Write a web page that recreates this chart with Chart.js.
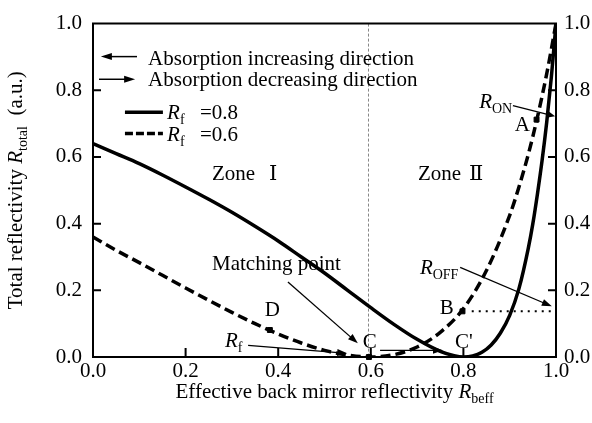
<!DOCTYPE html>
<html>
<head>
<meta charset="utf-8">
<script src="https://cdn.jsdelivr.net/npm/chart.js@4"></script>
<style>
  html, body { margin: 0; padding: 0; background: #fff; }
</style>
</head>
<body>
<canvas id="chart" width="592" height="423"></canvas>
<script>
const FONT = '"Liberation Serif", "DejaVu Serif", serif';

// R_f = 0.8 (solid)
const xRf08 = [0, 0.05, 0.1, 0.15, 0.2, 0.25, 0.3, 0.35, 0.4, 0.45, 0.5, 0.55, 0.6, 0.65, 0.7, 0.75, 0.78, 0.8,
               0.82, 0.84, 0.86, 0.88, 0.9, 0.92, 0.94, 0.95, 0.96, 0.97, 0.98, 0.99, 1.0];
const yRf08 = [0.64, 0.61, 0.58, 0.546, 0.51, 0.473, 0.434, 0.392, 0.348, 0.30, 0.252, 0.2, 0.148, 0.098, 0.053, 0.017, 0.004, 0,
               0.003, 0.014, 0.036, 0.072, 0.125, 0.205, 0.325, 0.40, 0.49, 0.59, 0.705, 0.84, 1.0];

// R_f = 0.6 (dashed)
const xRf06 = [0, 0.05, 0.1, 0.15, 0.2, 0.25, 0.3, 0.35, 0.4, 0.45, 0.5, 0.55, 0.6,
               0.65, 0.7, 0.75, 0.8, 0.85, 0.9, 0.92, 0.94, 0.96, 0.98, 1.0];
const yRf06 = [0.36, 0.32, 0.283, 0.245, 0.207, 0.17, 0.134, 0.1, 0.069, 0.042, 0.02, 0.006, 0,
               0.007, 0.03, 0.074, 0.145, 0.26, 0.425, 0.51, 0.607, 0.72, 0.85, 1.0];

// labelled points
const pointNames = ['A', 'B', 'C', 'D'];
const pointX = [0.958, 0.798, 0.596, 0.382];
const pointY = [0.712, 0.137, 0, 0.081];

const tickValues = [0, 0.2, 0.4, 0.6, 0.8, 1.0];
const matchX = 0.595;

const toXY = (xs, ys) => xs.map((x, i) => ({ x: x, y: ys[i] }));

// draw text made of pieces: [text, 'n' | 'i' | 's']
function rich(ctx, x, y, parts, align) {
  const fonts = { n: '21px ' + FONT, i: 'italic 21px ' + FONT, s: '14px ' + FONT };
  let w = 0;
  parts.forEach(p => { ctx.font = fonts[p[1]]; w += ctx.measureText(p[0]).width; });
  let cx = align === 'center' ? x - w / 2 : x;
  ctx.textAlign = 'left';
  ctx.textBaseline = 'alphabetic';
  parts.forEach(p => {
    ctx.font = fonts[p[1]];
    ctx.fillText(p[0], cx, y + (p[1] === 's' ? 5 : 0));
    cx += ctx.measureText(p[0]).width;
  });
}

function arrow(ctx, x1, y1, x2, y2, head) {
  const a = Math.atan2(y2 - y1, x2 - x1);
  const len = head || 10;
  ctx.beginPath();
  ctx.moveTo(x1, y1);
  ctx.lineTo(x2 - Math.cos(a) * len * 0.6, y2 - Math.sin(a) * len * 0.6);
  ctx.stroke();
  ctx.beginPath();
  ctx.moveTo(x2, y2);
  ctx.lineTo(x2 - len * Math.cos(a) + 3.5 * Math.sin(a), y2 - len * Math.sin(a) - 3.5 * Math.cos(a));
  ctx.lineTo(x2 - len * Math.cos(a) - 3.5 * Math.sin(a), y2 - len * Math.sin(a) + 3.5 * Math.cos(a));
  ctx.closePath();
  ctx.fill();
}

const extras = {
  id: 'extras',
  beforeDatasetsDraw(chart) {
    const { ctx, chartArea: a, scales: { x } } = chart;
    ctx.save();
    ctx.strokeStyle = '#888';
    ctx.lineWidth = 1;
    ctx.setLineDash([3, 2]);
    ctx.beginPath();
    ctx.moveTo(Math.round(x.getPixelForValue(matchX)) + 0.5, a.top);
    ctx.lineTo(Math.round(x.getPixelForValue(matchX)) + 0.5, a.bottom);
    ctx.stroke();
    ctx.restore();
  },
  afterDraw(chart) {
    const { ctx, chartArea: a, scales: { x, y } } = chart;
    const px = v => x.getPixelForValue(v);
    const py = v => y.getPixelForValue(v);
    ctx.save();
    ctx.fillStyle = '#000';
    ctx.strokeStyle = '#000';

    // top frame and inward ticks
    ctx.lineWidth = 2;
    ctx.beginPath();
    ctx.moveTo(a.left - 1, a.top);
    ctx.lineTo(a.right + 1, a.top);
    tickValues.slice(1, -1).forEach(v => {
      ctx.moveTo(px(v), a.bottom);
      ctx.lineTo(px(v), a.bottom - 9);
      ctx.moveTo(a.left, py(v));
      ctx.lineTo(a.left + 8, py(v));
      ctx.moveTo(a.right, py(v));
      ctx.lineTo(a.right - 8, py(v));
    });
    ctx.stroke();

    // dotted level from B
    ctx.lineWidth = 2;
    ctx.setLineDash([2, 5]);
    ctx.beginPath();
    ctx.moveTo(px(0.818), py(pointY[1]));
    ctx.lineTo(a.right, py(pointY[1]));
    ctx.stroke();
    ctx.setLineDash([]);

    // direction legend
    ctx.lineWidth = 1.5;
    arrow(ctx, px(0.095), py(0.901), px(0.017), py(0.901), 11);
    arrow(ctx, px(0.013), py(0.833), px(0.091), py(0.833), 11);
    rich(ctx, px(0.119), py(0.877), [['Absorption increasing direction', 'n']]);
    rich(ctx, px(0.119), py(0.813), [['Absorption decreasing direction', 'n']]);

    // curve legend
    ctx.lineWidth = 3.5;
    ctx.beginPath();
    ctx.moveTo(px(0.069), py(0.734));
    ctx.lineTo(px(0.151), py(0.734));
    ctx.stroke();
    ctx.setLineDash([8, 3]);
    ctx.beginPath();
    ctx.moveTo(px(0.069), py(0.670));
    ctx.lineTo(px(0.151), py(0.670));
    ctx.stroke();
    ctx.setLineDash([]);
    rich(ctx, px(0.160), py(0.713), [['R', 'i'], ['f', 's']]);
    rich(ctx, px(0.231), py(0.713), [['=0.8', 'n']]);
    rich(ctx, px(0.160), py(0.649), [['R', 'i'], ['f', 's']]);
    rich(ctx, px(0.231), py(0.649), [['=0.6', 'n']]);

    // zones
    rich(ctx, px(0.257), py(0.532), [['Zone', 'n']]);
    rich(ctx, px(0.380), py(0.532), [['\u2160', 'n']]);
    rich(ctx, px(0.702), py(0.532), [['Zone', 'n']]);
    rich(ctx, px(0.812), py(0.532), [['\u2161', 'n']]);

    // labels of points
    rich(ctx, px(0.257), py(0.260), [['Matching point', 'n']]);
    rich(ctx, px(0.598), py(0.026), [['C', 'n']], 'center');
    rich(ctx, px(0.782), py(0.026), [["C'", 'n']]);
    rich(ctx, px(0.371), py(0.123), [['D', 'n']]);
    rich(ctx, px(0.749), py(0.129), [['B', 'n']]);
    rich(ctx, px(0.911), py(0.678), [['A', 'n']]);
    rich(ctx, px(0.834), py(0.746), [['R', 'i'], ['ON', 's']]);
    rich(ctx, px(0.706), py(0.249), [['R', 'i'], ['OFF', 's']]);
    rich(ctx, px(0.285), py(0.029), [['R', 'i'], ['f', 's']]);

    // pointer arrows
    ctx.lineWidth = 1.3;
    arrow(ctx, px(0.421), py(0.225), px(0.572), py(0.041));
    arrow(ctx, px(0.907), py(0.754), px(0.998), py(0.722), 8);
    arrow(ctx, px(0.793), py(0.269), px(0.991), py(0.152));
    arrow(ctx, px(0.335), py(0.035), px(0.549), py(0.011));
    arrow(ctx, px(0.62), py(0.02), px(0.756), py(0.02));

    // axis titles
    rich(ctx, (a.left + a.right) / 2 + 10, 398,
         [['Effective back mirror reflectivity ', 'n'], ['R', 'i'], ['beff', 's']], 'center');
    ctx.translate(22, (a.top + a.bottom) / 2);
    ctx.rotate(-Math.PI / 2);
    rich(ctx, 0, 0, [['Total reflectivity ', 'n'], ['R', 'i'], ['total', 's'], ['  (a.u.)', 'n']], 'center');
    ctx.restore();
  }
};

const tickFont = { family: FONT, size: 21 };
const axisBase = {
  type: 'linear',
  min: 0,
  max: 1,
  grid: { display: false, drawTicks: false },
  border: { display: true, color: '#000', width: 2 },
};

new Chart(document.getElementById('chart'), {
  type: 'line',
  data: {
    datasets: [
      {
        label: 'Rf = 0.8',
        data: toXY(xRf08, yRf08),
        borderColor: '#000',
        borderWidth: 3.5,
        pointRadius: 0,
        cubicInterpolationMode: 'monotone',
        fill: false
      },
      {
        label: 'Rf = 0.6',
        data: toXY(xRf06, yRf06),
        borderColor: '#000',
        borderWidth: 3.5,
        borderDash: [10, 5],
        pointRadius: 0,
        cubicInterpolationMode: 'monotone',
        fill: false
      },
      {
        type: 'scatter',
        label: 'points',
        data: toXY(pointX, pointY),
        pointStyle: 'rect',
        pointRadius: 3.5,
        backgroundColor: '#000',
        borderColor: '#000',
        showLine: false,
        clip: false
      }
    ]
  },
  options: {
    responsive: false,
    animation: false,
    devicePixelRatio: 1,
    layout: { padding: { top: 15 } },
    plugins: { legend: { display: false }, tooltip: { enabled: false } },
    scales: {
      x: Object.assign({}, axisBase, {
        position: 'bottom',
        ticks: { stepSize: 0.2, autoSkip: false, maxRotation: 0, padding: 2, color: '#000', font: tickFont,
                 callback: v => v.toFixed(1) },
        afterFit: s => { s.height = 66; }
      }),
      y: Object.assign({}, axisBase, {
        position: 'left',
        ticks: { stepSize: 0.2, padding: 11, color: '#000', font: tickFont, callback: v => v.toFixed(1) },
        afterFit: s => { s.width = 93; }
      }),
      y2: Object.assign({}, axisBase, {
        position: 'right',
        ticks: { stepSize: 0.2, padding: 8, color: '#000', font: tickFont, callback: v => v.toFixed(1) },
        afterFit: s => { s.width = 36; }
      })
    }
  },
  plugins: [extras]
});
</script>
</body>
</html>
